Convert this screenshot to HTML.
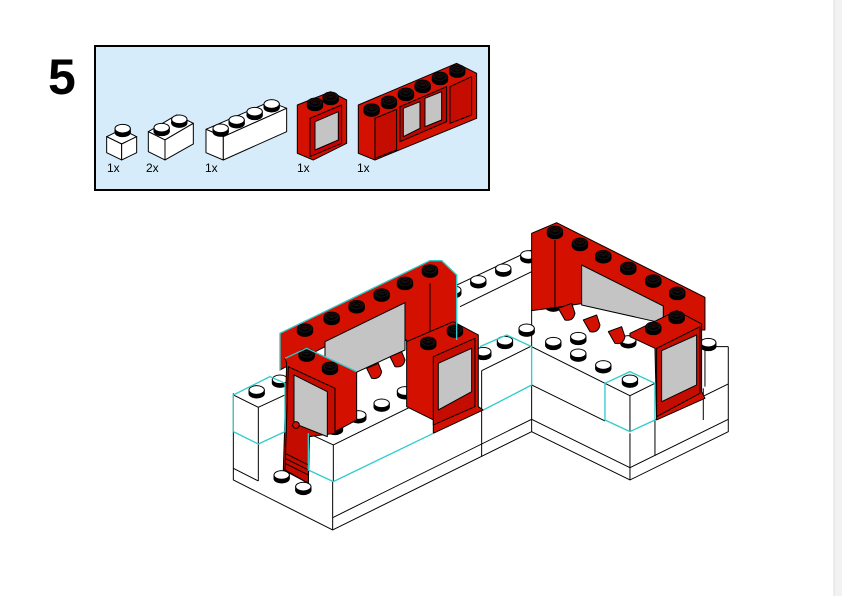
<!DOCTYPE html>
<html><head><meta charset="utf-8"><style>
html,body{margin:0;padding:0;background:#fff;}
body{width:842px;height:596px;overflow:hidden;position:relative;font-family:"Liberation Sans",sans-serif;}
</style></head><body>
<svg width="842" height="596" viewBox="0 0 842 596" xmlns="http://www.w3.org/2000/svg">
<defs>
<g id="ws"><ellipse cx="0" cy="11" rx="23" ry="13" fill="#000"/><rect x="-23" y="0" width="46" height="11" fill="#000"/><ellipse cx="0" cy="0" rx="23" ry="13" fill="#fff" stroke="#000" stroke-width="3"/></g>
<g id="rs"><ellipse cx="0" cy="10" rx="23" ry="14" fill="#000"/><rect x="-23" y="0" width="46" height="10" fill="#000"/><ellipse cx="0" cy="0" rx="23" ry="14" fill="#111" stroke="#000" stroke-width="2"/><ellipse cx="0" cy="0" rx="14" ry="8" fill="#8a0a00"/><ellipse cx="0" cy="1" rx="10" ry="5" fill="#111"/></g>
</defs>
<rect x="834" y="0" width="8" height="596" fill="#f2f2f2"/>
<line x1="834" y1="0" x2="834" y2="596" stroke="#ddd"/>
<text x="48" y="94" font-size="50" font-weight="bold" font-family="Liberation Sans, sans-serif">5</text>
<rect x="95" y="46" width="394" height="144" fill="#d6ecfb" stroke="#000" stroke-width="2"/>
<g transform="translate(90,40) scale(0.3333)" stroke="#000" stroke-width="3" stroke-linejoin="round">
 <polygon points="50,290 95,268 140,290 95,312" fill="#fff"/>
 <polygon points="50,290 95,312 95,360 50,338" fill="#fff"/>
 <polygon points="95,312 140,290 140,338 95,360" fill="#fff"/>
 <use href="#ws" x="98" y="266"/>
 <polygon points="175,275 260,225 310,250 225,300" fill="#fff"/>
 <polygon points="175,275 225,300 225,360 175,335" fill="#fff"/>
 <polygon points="225,300 310,250 310,312 225,360" fill="#fff"/>
 <use href="#ws" x="215" y="263"/><use href="#ws" x="268" y="238"/>
 <polygon points="348,268 540,185 590,205 400,290" fill="#fff"/>
 <polygon points="348,268 400,290 400,360 348,338" fill="#fff"/>
 <polygon points="400,290 590,205 590,275 400,360" fill="#fff"/>
 <use href="#ws" x="392" y="265"/><use href="#ws" x="440" y="240"/><use href="#ws" x="494" y="215"/><use href="#ws" x="545" y="192"/>
 <polygon points="622,195 722,155 770,180 770,310 670,360 622,340" fill="#d41000"/>
 <polygon points="660,235 755,195 755,310 660,350" fill="#c00"/>
 <polygon points="675,245 745,215 745,300 675,330" fill="#c4c4c4"/>
 <use href="#rs" x="675" y="188"/><use href="#rs" x="722" y="170"/>
 <polygon points="805,195 1100,70 1160,100 1160,235 855,360 805,340" fill="#d41000"/>
 <polygon points="855,235 920,208 920,330 855,355" fill="#c40c00"/>
 <polygon points="930,200 1070,140 1070,245 930,305" fill="#b80800"/>
 <polygon points="940,205 990,185 990,265 940,290" fill="#c4c4c4"/>
 <polygon points="1005,175 1055,155 1055,240 1005,260" fill="#c4c4c4"/>
 <polygon points="1080,140 1145,110 1145,225 1080,250" fill="#c40c00"/>
 <use href="#rs" x="845" y="205"/><use href="#rs" x="897" y="182"/><use href="#rs" x="948" y="158"/><use href="#rs" x="998" y="134"/><use href="#rs" x="1050" y="110"/><use href="#rs" x="1102" y="88"/>
</g>
<g font-size="12" font-family="Liberation Sans, sans-serif">
<text x="107" y="172">1x</text><text x="146" y="172">2x</text><text x="205" y="172">1x</text><text x="297" y="172">1x</text><text x="357" y="172">1x</text>
</g>

<g transform="translate(220,220) scale(0.3333)" stroke="#000" stroke-width="3" stroke-linejoin="round" fill="none">
 <polygon points="40,520 700,200 935,90 1525,380 1525,635 1230,780 935,635 338,930 40,780" fill="#fff" stroke="none"/>
 <polyline points="40,520 40,780 338,930 935,635 1230,780 1525,635 1525,380"/>
 <line x1="338" y1="785" x2="338" y2="930"/>
 <line x1="1230" y1="640" x2="1230" y2="780"/>
 <line x1="935" y1="490" x2="935" y2="635"/>
 <line x1="338" y1="893" x2="935" y2="598"/>
 <line x1="935" y1="598" x2="1230" y2="743"/>
 <line x1="1230" y1="743" x2="1525" y2="598"/>
 <line x1="40" y1="745" x2="115" y2="783"/>
 <line x1="115" y1="670" x2="115" y2="783"/>
 <line x1="935" y1="495" x2="1155" y2="603"/>
 <line x1="1305" y1="600" x2="1525" y2="492"/>
 <line x1="785" y1="570" x2="785" y2="710"/>
 <line x1="1305" y1="600" x2="1305" y2="708"/>
 <line x1="1450" y1="505" x2="1450" y2="600"/>
 <line x1="935" y1="270" x2="935" y2="380"/>
 <line x1="700" y1="200" x2="935" y2="90"/>
 <line x1="720" y1="260" x2="935" y2="155"/>
 <line x1="935" y1="380" x2="1155" y2="490"/>
 <line x1="1450" y1="380" x2="1525" y2="380"/>
 <!-- upper-layer edges -->
 <line x1="340" y1="675" x2="640" y2="527"/>
 <line x1="340" y1="675" x2="340" y2="785"/>
 <line x1="265" y1="640" x2="340" y2="675"/>
 <line x1="785" y1="452" x2="935" y2="378"/>
 <line x1="785" y1="452" x2="785" y2="570"/>
 <line x1="40" y1="525" x2="115" y2="562"/>
 <line x1="115" y1="562" x2="115" y2="672"/>
 <line x1="115" y1="562" x2="195" y2="525"/>
 <line x1="1155" y1="490" x2="1230" y2="527"/>
 <line x1="1230" y1="527" x2="1305" y2="490"/>
 <line x1="1230" y1="527" x2="1230" y2="635"/>
 <line x1="1455" y1="380" x2="1455" y2="500"/>
 <!-- white studs -->
 <use href="#ws" x="700" y="210"/><use href="#ws" x="775" y="180"/><use href="#ws" x="850" y="145"/><use href="#ws" x="925" y="105"/>
 <use href="#ws" x="790" y="395"/><use href="#ws" x="855" y="362"/>
 <use href="#ws" x="920" y="325"/><use href="#ws" x="1000" y="365"/><use href="#ws" x="1075" y="400"/><use href="#ws" x="1150" y="435"/>
 <use href="#ws" x="1075" y="350"/><use href="#ws" x="1000" y="250"/><use href="#ws" x="1225" y="360"/>
 <use href="#ws" x="1465" y="368"/>
 <use href="#ws" x="110" y="510"/><use href="#ws" x="180" y="478"/>
 <use href="#ws" x="185" y="765"/><use href="#ws" x="250" y="800"/>
 <use href="#ws" x="345" y="620"/><use href="#ws" x="415" y="585"/><use href="#ws" x="485" y="550"/><use href="#ws" x="555" y="513"/>
 <use href="#ws" x="1230" y="478"/>
 <!-- right long red window -->
 <polygon points="935,40 1010,8 1455,232 1455,330 1330,330 1330,300 1090,185 1090,250 1010,262 935,272" fill="#d41000"/>
 <polygon points="1085,135 1330,258 1330,310 1085,255" fill="#c4c4c4"/>
 <line x1="1005" y1="60" x2="1005" y2="262"/>
 <use href="#rs" x="1005" y="32"/><use href="#rs" x="1080" y="68"/><use href="#rs" x="1150" y="105"/><use href="#rs" x="1225" y="140"/><use href="#rs" x="1300" y="178"/><use href="#rs" x="1372" y="215"/>
 <path d="M1015,265 l40,-15 l10,30 q-5,25 -30,20 z" fill="#d41000"/>
 <path d="M1090,300 l40,-15 l10,30 q-5,25 -30,20 z" fill="#d41000"/>
 <path d="M1165,335 l40,-15 l10,30 q-5,25 -30,20 z" fill="#d41000"/>
 <!-- right small window -->
 <polygon points="1230,340 1370,272 1445,312 1445,515 1455,535 1310,600 1305,385 1230,350" fill="#d41000"/>
 <polygon points="1310,385 1440,320 1440,520 1310,590" fill="#c40c00"/>
 <polygon points="1325,392 1430,345 1430,495 1325,545" fill="#c4c4c4"/>
 <use href="#rs" x="1300" y="320"/><use href="#rs" x="1370" y="287"/>
 <!-- left long red window -->
 <polygon points="180,340 630,122 665,122 710,165 710,360 565,440 560,360 410,440 330,430 315,380 180,450" fill="#d41000"/>
 <polygon points="315,365 555,248 555,390 315,500" fill="#c4c4c4"/>
 <line x1="630" y1="190" x2="630" y2="400"/>
 <use href="#rs" x="255" y="325"/><use href="#rs" x="335" y="290"/><use href="#rs" x="410" y="255"/><use href="#rs" x="485" y="220"/><use href="#rs" x="555" y="185"/><use href="#rs" x="630" y="148"/>
 <path d="M440,445 l35,-15 l10,25 q-5,25 -30,20 z" fill="#d41000"/>
 <path d="M510,410 l35,-15 l10,25 q-5,25 -30,20 z" fill="#d41000"/>
 <!-- middle small window -->
 <polygon points="560,365 700,305 775,345 775,560 790,570 640,640 640,600 560,560" fill="#d41000"/>
 <polygon points="640,410 765,355 765,560 640,615" fill="#c40c00"/>
 <polygon points="655,430 755,385 755,515 655,570" fill="#c4c4c4"/>
 <use href="#rs" x="625" y="365"/><use href="#rs" x="705" y="328"/>
 <!-- door window -->
 <polygon points="195,415 260,385 410,455 410,600 345,635 268,650 265,790 190,750 200,430" fill="#d41000"/>
 <polygon points="205,440 345,505 345,640 268,650 265,790 195,750" fill="#c40c00"/>
 <polygon points="222,465 322,515 322,650 222,610" fill="#c4c4c4"/>
 <line x1="195" y1="700" x2="265" y2="735"/><line x1="195" y1="715" x2="265" y2="750"/><line x1="195" y1="730" x2="265" y2="765"/>
 <circle cx="228" cy="615" r="10" fill="#d41000"/>
 <use href="#rs" x="260" y="400"/><use href="#rs" x="330" y="440"/>
 <!-- cyan outlines -->
 <g stroke="#33cccc" stroke-width="4">
  <polyline points="180,450 180,340 630,122 665,122 710,165 710,360"/>
  <polygon points="40,525 150,470 195,490 195,635 115,672 40,635"/>
  <polyline points="265,640 265,750 340,785 640,640"/>
  <polyline points="790,570 935,495 935,380 860,345 780,380"/>
  <polygon points="1155,490 1230,455 1305,490 1305,600 1230,635 1155,600"/>
  <polyline points="195,415 260,385 410,455"/>
 </g>
</g>
</svg>
</body></html>
